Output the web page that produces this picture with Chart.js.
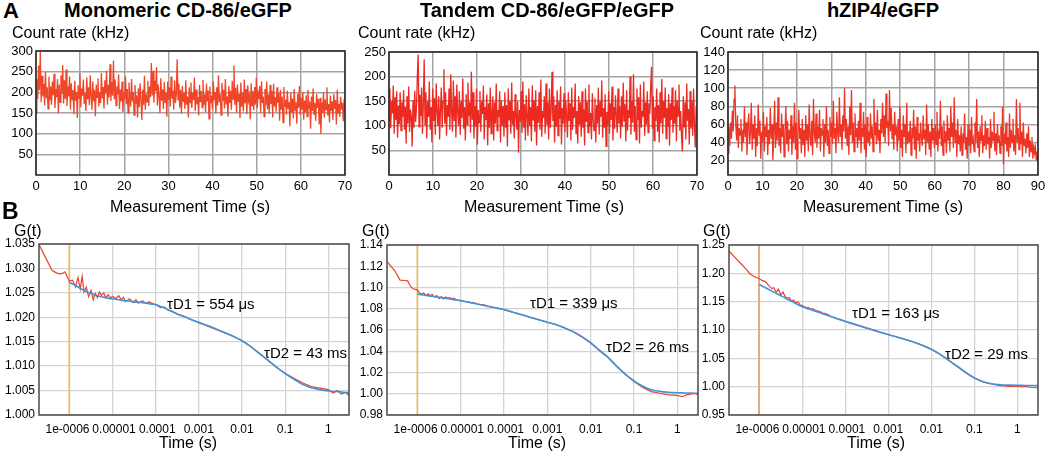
<!DOCTYPE html>
<html>
<head>
<meta charset="utf-8">
<script src="https://cdn.jsdelivr.net/npm/chart.js@4.4.1/dist/chart.umd.min.js"></script>
<style>
  body { margin: 0; background: #fff; }
  #fig { position: relative; width: 1046px; height: 461px; overflow: hidden; font-family: "Liberation Sans", Arial, sans-serif; color: #000; }
  .lbl { position: absolute; white-space: nowrap; line-height: 1; }
</style>
</head>
<body>
<div id="fig"></div>
<script>
// ---- A: count rate traces (kHz), evenly sampled over each run ----
const monoCounts = [
  150, 232, 184, 265, 205, 298, 176, 240, 190, 221, 168, 250, 186, 212, 160,
  238, 181, 214, 170, 226, 193, 245, 162, 208, 188, 232, 149, 219, 176, 241,
  196, 266, 173, 229, 184, 255, 167, 214, 190, 239, 158, 222, 181, 205, 147,
  228, 180, 201, 138, 217, 186, 247, 164, 209, 192, 231, 172, 198, 155, 236,
  183, 212, 169, 241, 190, 158, 226, 178, 206, 142, 219, 188, 234, 166, 200,
  174, 247, 185, 213, 161, 229, 197, 252, 170, 218, 188, 268, 179, 225, 192,
  277, 183, 231, 168, 214, 195, 243, 160, 207, 178, 226, 152, 199, 183, 238,
  171, 208, 150, 224, 186, 165, 232, 178, 200, 145, 218, 172, 193, 139, 210,
  164, 222, 182, 133, 206, 170, 240, 158, 196, 177, 228, 167, 214, 188, 271,
  192, 252, 175, 228, 203, 261, 168, 219, 189, 150, 234, 180, 207, 160, 225,
  176, 199, 141, 226, 182, 212, 166, 238, 185, 204, 158, 229, 174, 194, 280,
  182, 221, 163, 206, 148, 216, 177, 198, 160, 229, 170, 190, 139, 212, 175,
  224, 162, 199, 181, 236, 155, 207, 171, 188, 144, 218, 176, 203, 163, 230,
  170, 195, 152, 221, 178, 205, 136, 214, 174, 192, 158, 226, 181, 201, 149,
  212, 168, 241, 176, 196, 145, 223, 180, 206, 161, 232, 171, 190, 141, 215,
  174, 204, 158, 228, 183, 265, 170, 211, 151, 219, 177, 196, 138, 224, 165,
  199, 154, 231, 173, 208, 147, 217, 180, 192, 135, 222, 168, 203, 157, 213,
  170, 236, 162, 198, 184, 215, 150, 227, 174, 190, 141, 208, 168, 226, 159,
  195, 148, 218, 172, 204, 139, 221, 166, 188, 153, 212, 175, 199, 131, 206,
  158, 190, 127, 213, 165, 182, 146, 204, 160, 176, 118, 199, 151, 185, 137,
  208, 156, 176, 124, 196, 163, 215, 145, 187, 158, 201, 134, 180, 152, 193,
  141, 206, 160, 178, 112, 190, 155, 209, 147, 174, 131, 196, 162, 184, 122,
  187, 100, 175, 150, 200, 139, 183, 158, 212, 144, 172, 127, 192, 155, 178,
  133, 196, 160, 181, 122, 206, 150, 172, 141, 189, 158, 175, 130, 184, 152
];
const tandemCounts = [
  110, 176, 95, 150, 125, 182, 84, 158, 112, 170, 76, 141, 103, 168, 90,
  148, 118, 172, 92, 139, 64, 160, 104, 180, 88, 133, 120, 58, 152, 96,
  171, 108, 136, 200, 245, 98, 163, 120, 178, 84, 142, 235, 102, 168, 74,
  150, 118, 190, 92, 138, 66, 176, 110, 156, 82, 186, 128, 100, 160, 72,
  134, 178, 96, 150, 215, 104, 168, 80, 142, 118, 176, 92, 205, 126, 88,
  192, 110, 160, 76, 184, 128, 100, 170, 82, 150, 116, 196, 94, 138, 70,
  164, 102, 188, 120, 148, 86, 210, 112, 168, 74, 140, 98, 176, 62, 132,
  106, 170, 88, 150, 124, 182, 72, 138, 112, 164, 60, 146, 96, 178, 84,
  126, 160, 70, 148, 104, 186, 90, 132, 118, 170, 66, 152, 100, 140, 78,
  168, 96, 142, 58, 176, 112, 150, 84, 188, 102, 130, 74, 164, 120, 92,
  150, 45, 132, 108, 170, 86, 190, 96, 144, 70, 162, 118, 80, 176, 100,
  138, 68, 182, 112, 152, 88, 172, 60, 140, 106, 168, 92, 194, 78, 130,
  116, 160, 84, 186, 102, 148, 72, 176, 96, 132, 210, 110, 160, 66, 142,
  98, 172, 80, 150, 114, 180, 62, 136, 104, 166, 88, 152, 120, 76, 168,
  110, 146, 70, 178, 92, 138, 116, 186, 84, 130, 64, 160, 102, 148, 78,
  170, 96, 134, 60, 176, 108, 150, 86, 184, 98, 126, 72, 166, 112, 90,
  156, 66, 142, 104, 178, 82, 150, 118, 192, 76, 136, 96, 164, 58, 128,
  100, 170, 84, 146, 112, 180, 70, 138, 94, 162, 120, 86, 176, 104, 140,
  74, 160, 98, 188, 110, 144, 68, 172, 90, 132, 116, 200, 82, 150, 106,
  205, 88, 140, 72, 176, 112, 158, 64, 184, 96, 130, 118, 190, 80, 148,
  102, 170, 86, 146, 124, 180, 220, 94, 160, 70, 138, 110, 176, 88, 142,
  66, 168, 104, 195, 84, 150, 116, 178, 74, 136, 98, 164, 60, 146, 112,
  178, 86, 140, 104, 172, 68, 152, 120, 184, 90, 130, 76, 48, 160, 98,
  148, 72, 186, 110, 134, 62, 170, 94, 152, 80, 176, 104, 56, 140, 118
];
const zipCounts = [
  28, 58, 36, 62, 44, 75, 52, 88, 103, 60, 42, 70, 34, 56, 48,
  66, 30, 54, 40, 80, 46, 62, 26, 58, 72, 38, 50, 84, 32, 60,
  44, 70, 24, 56, 36, 82, 48, 64, 22, 52, 40, 74, 30, 58, 46,
  68, 26, 54, 38, 78, 44, 60, 20, 50, 86, 34, 62, 42, 90, 36,
  56, 28, 72, 46, 60, 24, 52, 80, 38, 64, 30, 54, 44, 70, 26,
  58, 40, 84, 32, 62, 22, 50, 76, 44, 56, 28, 66, 38, 54, 24,
  70, 42, 60, 30, 82, 46, 36, 64, 26, 88, 50, 40, 72, 34, 58,
  44, 76, 30, 56, 48, 66, 24, 60, 40, 80, 36, 54, 28, 68, 46,
  62, 38, 86, 44, 56, 28, 74, 50, 40, 90, 46, 60, 32, 70, 52,
  100, 44, 66, 36, 58, 26, 80, 48, 98, 40, 62, 30, 72, 46, 56,
  34, 64, 42, 84, 28, 56, 46, 74, 32, 60, 24, 68, 40, 52, 36,
  72, 44, 58, 30, 88, 48, 62, 38, 76, 42, 54, 28, 66, 50, 84,
  46, 70, 40, 94, 56, 64, 36, 98, 52, 78, 44, 60, 32, 74, 48,
  58, 30, 66, 42, 80, 34, 54, 24, 70, 46, 60, 28, 84, 38, 52,
  40, 64, 26, 56, 44, 76, 32, 58, 22, 68, 42, 50, 30, 62, 46,
  36, 70, 44, 54, 26, 82, 40, 60, 32, 52, 24, 66, 42, 56, 34,
  60, 38, 74, 30, 50, 44, 86, 36, 58, 26, 64, 40, 52, 28, 70,
  42, 56, 30, 80, 46, 62, 34, 90, 40, 54, 24, 66, 38, 48, 30,
  58, 26, 50, 40, 72, 32, 46, 22, 60, 36, 54, 28, 68, 38, 44,
  30, 62, 40, 88, 34, 52, 24, 58, 42, 70, 28, 48, 36, 64, 32,
  56, 38, 46, 22, 66, 34, 52, 42, 74, 30, 50, 26, 60, 40, 48,
  28, 58, 36, 80, 16, 50, 38, 62, 30, 46, 24, 72, 34, 54, 40,
  66, 30, 48, 26, 88, 40, 56, 32, 84, 38, 52, 24, 62, 36, 44,
  28, 50, 34, 58, 24, 42, 30, 46, 22, 38, 28, 34, 20, 30, 16
];
const monoDuration = 70;
const tandemDuration = 70;
const zipDuration = 90;

const timeTicks70 = [0, 10, 20, 30, 40, 50, 60, 70];
const timeTicks90 = [0, 10, 20, 30, 40, 50, 60, 70, 80, 90];
const monoCountTicks = [50, 100, 150, 200, 250, 300];
const tandemCountTicks = [50, 100, 150, 200, 250];
const zipCountTicks = [20, 40, 60, 80, 100, 120, 140];

// ---- B: autocorrelation G(t) and two-component fit ----
const lagTimes = [
  2e-7, 3e-7, 4e-7, 5e-7, 6e-7, 7e-7, 8e-7, 9e-7, 1e-6,
  1.2e-6, 1.4e-6, 1.6e-6, 1.8e-6, 2e-6, 2.2e-6, 2.5e-6, 2.8e-6, 3.2e-6, 3.6e-6, 4e-6, 4.5e-6, 5e-6, 5.6e-6, 6.3e-6, 7e-6, 8e-6, 9e-6, 1e-5,
  1.2e-5, 1.4e-5, 1.6e-5, 1.8e-5, 2e-5, 2.5e-5, 3e-5, 3.5e-5, 4e-5, 5e-5, 6e-5, 7e-5, 8e-5, 1e-4,
  1.3e-4, 1.6e-4, 2e-4, 2.5e-4, 3.2e-4, 4e-4, 5e-4, 6.3e-4, 8e-4, 1e-3,
  1.6e-3, 2.5e-3, 4e-3, 6.3e-3, 1e-2,
  0.016, 0.025, 0.04, 0.063, 0.1,
  0.16, 0.25, 0.4, 0.63, 1,
  1.3, 1.6, 2, 2.5, 3
];
const monoG = [
  1.0349, 1.0318, 1.0296, 1.0291, 1.0289, 1.0290, 1.0293, 1.0283, 1.0274,
  1.0276, 1.0262, 1.0281, 1.0258, 1.0284, 1.0252, 1.0262, 1.0242, 1.0255, 1.0236, 1.0249, 1.0240, 1.0252, 1.0245, 1.0250, 1.0240, 1.0246, 1.0239, 1.0243,
  1.0238, 1.0244, 1.0236, 1.0241, 1.0232, 1.0238, 1.0230, 1.0236, 1.0229, 1.0234, 1.0228, 1.0232, 1.0229, 1.0226,
  1.0220, 1.0221, 1.0214, 1.0212, 1.0206, 1.0204, 1.0201, 1.0196, 1.0192, 1.0190,
  1.0182, 1.0175, 1.0168, 1.0161, 1.0152,
  1.0140, 1.0127, 1.0112, 1.0097, 1.0085,
  1.0075, 1.0066, 1.0058, 1.0055, 1.0052,
  1.0045, 1.0050, 1.0043, 1.0046, 1.0040
];
const monoFit = [
  null, null, null, null, null, null, null, null, 1.0272,
  1.0268, 1.0265, 1.0262, 1.0259, 1.0257, 1.0255, 1.0253, 1.0251, 1.0249, 1.0247, 1.0245, 1.0244, 1.0243, 1.0242, 1.0241, 1.0240, 1.0239, 1.0238, 1.0238,
  1.0237, 1.0236, 1.0235, 1.0234, 1.0234, 1.0233, 1.0232, 1.0231, 1.0231, 1.0230, 1.0229, 1.0228, 1.0227, 1.0226,
  1.0222, 1.0219, 1.0215, 1.0211, 1.0207, 1.0203, 1.0200, 1.0196, 1.0193, 1.0189,
  1.0183, 1.0176, 1.0169, 1.0161, 1.0152,
  1.0140, 1.0126, 1.0112, 1.0098, 1.0085,
  1.0073, 1.0063, 1.0056, 1.0052, 1.0049,
  1.0048, 1.0048, 1.0047, 1.0046, 1.0046
];
const tandemG = [
  1.1244, 1.1160, 1.1070, 1.1066, 1.1062, 1.1010, 1.0988, 1.0982, 1.0978,
  1.0935, 1.0948, 1.0925, 1.0940, 1.0920, 1.0935, 1.0910, 1.0925, 1.0895, 1.0915, 1.0893, 1.0910, 1.0900, 1.0905, 1.0893, 1.0900, 1.0885, 1.0880, 1.0878,
  1.0872, 1.0868, 1.0866, 1.0855, 1.0858, 1.0845, 1.0840, 1.0836, 1.0826, 1.0820, 1.0812, 1.0808, 1.0801, 1.0792,
  1.0780, 1.0767, 1.0757, 1.0744, 1.0733, 1.0719, 1.0710, 1.0698, 1.0685, 1.0672,
  1.0652, 1.0620, 1.0582, 1.0535, 1.0478,
  1.0405, 1.0340, 1.0255, 1.0180, 1.0115,
  1.0060, 1.0020, 1.0005, 0.9990, 0.9985,
  0.9972, 0.9990, 0.9995, 1.0003, 0.9992
];
const tandemFit = [
  null, null, null, null, null, null, null, null, 1.0938,
  1.0933, 1.0929, 1.0925, 1.0922, 1.0919, 1.0917, 1.0913, 1.0910, 1.0907, 1.0904, 1.0901, 1.0898, 1.0895, 1.0892, 1.0888, 1.0886, 1.0882, 1.0879, 1.0876,
  1.0869, 1.0864, 1.0859, 1.0855, 1.0851, 1.0843, 1.0836, 1.0830, 1.0825, 1.0817, 1.0811, 1.0805, 1.0800, 1.0792,
  1.0778, 1.0768, 1.0756, 1.0745, 1.0732, 1.0720, 1.0709, 1.0697, 1.0684, 1.0673,
  1.0650, 1.0620, 1.0585, 1.0538, 1.0480,
  1.0410, 1.0345, 1.0260, 1.0185, 1.0121,
  1.0070, 1.0038, 1.0022, 1.0014, 1.0010,
  1.0008, 1.0007, 1.0006, 1.0005, 1.0005
];
const zipG = [
  1.2394, 1.2252, 1.2152, 1.2075, 1.1998, 1.1963, 1.1934, 1.1922, 1.1910,
  1.1870, 1.1855, 1.1800, 1.1760, 1.1730, 1.1745, 1.1665, 1.1720, 1.1620, 1.1670, 1.1590, 1.1560, 1.1575, 1.1510, 1.1530, 1.1480, 1.1495, 1.1440, 1.1430,
  1.1400, 1.1395, 1.1370, 1.1375, 1.1345, 1.1330, 1.1300, 1.1290, 1.1270, 1.1225, 1.1205, 1.1190, 1.1175, 1.1150,
  1.1122, 1.1100, 1.1078, 1.1054, 1.1030, 1.1006, 1.0984, 1.0960, 1.0938, 1.0917,
  1.0872, 1.0830, 1.0784, 1.0728, 1.0662,
  1.0566, 1.0465, 1.0356, 1.0245, 1.0150,
  1.0085, 1.0048, 1.0020, 1.0005, 1.0010,
  0.9998, 1.0003, 0.9990, 0.9985, 0.9972
];
const zipFit = [
  null, null, null, null, null, null, null, null, 1.1804,
  1.1773, 1.1746, 1.1723, 1.1703, 1.1685, 1.1669, 1.1647, 1.1627, 1.1605, 1.1584, 1.1566, 1.1546, 1.1528, 1.1509, 1.1488, 1.1470, 1.1447, 1.1427, 1.1409,
  1.1389, 1.1372, 1.1357, 1.1344, 1.1333, 1.1308, 1.1288, 1.1271, 1.1256, 1.1231, 1.1211, 1.1194, 1.1180, 1.1155,
  1.1128, 1.1107, 1.1084, 1.1061, 1.1036, 1.1013, 1.0990, 1.0966, 1.0942, 1.0919,
  1.0875, 1.0832, 1.0782, 1.0725, 1.0660,
  1.0570, 1.0470, 1.0360, 1.0250, 1.0155,
  1.0087, 1.0050, 1.0035, 1.0027, 1.0023,
  1.0022, 1.0021, 1.0020, 1.0020, 1.0020
];
const fitStart = 1e-6;
const lagTickValues = [1e-6, 1e-5, 1e-4, 1e-3, 1e-2, 1e-1, 1];
const lagTickLabels = ['1e-0006 ', ' 0.00001', ' 0.0001', '0.001', '0.01', '0.1', '1'];
const monoGTicks = [1.000, 1.005, 1.010, 1.015, 1.020, 1.025, 1.030, 1.035];
const tandemGTicks = [0.98, 1.00, 1.02, 1.04, 1.06, 1.08, 1.10, 1.12, 1.14];
const zipGTicks = [0.95, 1.00, 1.05, 1.10, 1.15, 1.20, 1.25];

Chart.defaults.font.family = '"Liberation Sans", Arial, sans-serif';
Chart.defaults.color = '#000';

const fig = document.getElementById('fig');

function addText(text, x, cy, size, opts = {}) {
  const d = document.createElement('div');
  d.className = 'lbl';
  d.textContent = text;
  d.style.fontSize = size + 'px';
  d.style.fontWeight = opts.bold ? 'bold' : 'normal';
  d.style.top = (cy - size / 2) + 'px';
  d.style.left = x + 'px';
  if (opts.center) d.style.transform = 'translateX(-50%)';
  fig.appendChild(d);
}

// box around the plot area, plus the vertical marker where the fit starts
const framePlugin = {
  id: 'frame',
  beforeDatasetsDraw(chart, args, opts) {
    if (opts.markAt == null) return;
    const { ctx, chartArea: a } = chart;
    const x = chart.scales.x.getPixelForValue(opts.markAt);
    ctx.save();
    ctx.strokeStyle = opts.markColor;
    ctx.lineWidth = 1.5;
    ctx.beginPath();
    ctx.moveTo(x, a.top);
    ctx.lineTo(x, a.bottom);
    ctx.stroke();
    ctx.restore();
  },
  afterDraw(chart, args, opts) {
    const { ctx, chartArea: a } = chart;
    ctx.save();
    ctx.strokeStyle = opts.color;
    ctx.lineWidth = opts.width;
    ctx.strokeRect(a.left, a.top, a.right - a.left, a.bottom - a.top);
    ctx.restore();
  }
};

function makePanel(plot, yw, xh, padTop, padRight, datasets, xScale, yScale, frame) {
  const c = document.createElement('canvas');
  const w = yw + (plot.r - plot.l) + padRight;
  const h = padTop + (plot.b - plot.t) + xh;
  c.width = w;
  c.height = h;
  c.style.cssText = `position:absolute;left:${plot.l - yw}px;top:${plot.t - padTop}px;width:${w}px;height:${h}px`;
  fig.appendChild(c);

  xScale.afterFit = (s) => { s.height = xh; };
  yScale.afterFit = (s) => { s.width = yw; };

  return new Chart(c, {
    type: 'line',
    data: { datasets },
    options: {
      responsive: false,
      animation: false,
      devicePixelRatio: 1,
      parsing: false,
      normalized: true,
      layout: { padding: { top: padTop, right: padRight, left: 0, bottom: 0 } },
      elements: { point: { radius: 0 }, line: { tension: 0 } },
      plugins: { legend: { display: false }, tooltip: { enabled: false }, frame },
      scales: { x: xScale, y: yScale }
    },
    plugins: [framePlugin]
  });
}

function fixedTicks(values) {
  return (s) => { s.ticks = values.map((v) => ({ value: v })); };
}

function countPanel(plot, counts, duration, color, timeTicks, yMin, yMax, yTicks) {
  const pts = counts.map((v, i) => ({ x: i * duration / (counts.length - 1), y: v }));
  makePanel(plot, 36, 30, 12, 14,
    [{ data: pts, borderColor: color, borderWidth: 1.3 }],
    {
      type: 'linear', min: 0, max: duration,
      afterBuildTicks: fixedTicks(timeTicks),
      ticks: { font: { size: 13 }, padding: 4, maxRotation: 0, autoSkip: false },
      grid: { color: '#a4a4a4', lineWidth: 1.5, drawTicks: false },
      border: { display: false }
    },
    {
      type: 'linear', min: yMin, max: yMax,
      afterBuildTicks: fixedTicks(yTicks),
      ticks: { font: { size: 13 }, padding: 3 },
      grid: { color: '#a4a4a4', lineWidth: 1.5, drawTicks: false },
      border: { display: false }
    },
    { color: '#2b2b2b', width: 1.6 });
}

function corrPanel(plot, g, fit, yMin, yMax, yTicks, digits, markColor) {
  const redPts = lagTimes.map((t, i) => ({ x: t, y: g[i] }));
  const fitPts = lagTimes.map((t, i) => ({ x: t, y: fit[i] })).filter((p) => p.y !== null);
  makePanel(plot, 40, 34, 12, 14,
    [
      { data: fitPts, borderColor: '#4193dc', borderWidth: 1.6, cubicInterpolationMode: 'monotone' },
      { data: redPts, borderColor: '#e8432a', borderWidth: 1.2 }
    ],
    {
      type: 'logarithmic', min: 2e-7, max: 3,
      afterBuildTicks: fixedTicks(lagTickValues),
      ticks: { font: { size: 12 }, padding: 7, maxRotation: 0, autoSkip: false,
               callback: (v, i) => lagTickLabels[i] },
      grid: { color: '#d4d4d4', lineWidth: 1.3, drawTicks: false },
      border: { display: false }
    },
    {
      type: 'linear', min: yMin, max: yMax,
      afterBuildTicks: fixedTicks(yTicks),
      ticks: { font: { size: 12 }, padding: 4, callback: (v) => v.toFixed(digits) },
      grid: { color: '#d4d4d4', lineWidth: 1.3, drawTicks: false },
      border: { display: false }
    },
    { color: '#4a4a4a', width: 1.5, markAt: fitStart, markColor: markColor });
}

countPanel({ l: 36, r: 345, t: 51, b: 175 }, monoCounts, monoDuration, '#ef4529', timeTicks70, 0, 300, monoCountTicks);
countPanel({ l: 389, r: 697, t: 52, b: 175 }, tandemCounts, tandemDuration, '#ec2a22', timeTicks70, 0, 250, tandemCountTicks);
countPanel({ l: 728, r: 1038, t: 52, b: 175 }, zipCounts, zipDuration, '#ee3425', timeTicks90, 4, 140, zipCountTicks);

corrPanel({ l: 39, r: 349, t: 244, b: 415 }, monoG, monoFit, 1.000, 1.035, monoGTicks, 3, '#f6b845');
corrPanel({ l: 387, r: 698, t: 245, b: 415 }, tandemG, tandemFit, 0.98, 1.14, tandemGTicks, 2, '#f6b845');
corrPanel({ l: 729, r: 1038, t: 245, b: 415 }, zipG, zipFit, 0.95, 1.25, zipGTicks, 2, '#f0985a');

// headings and axis titles
addText('A', 3, 11, 22, { bold: true });
addText('B', 2, 211, 23, { bold: true });
addText('Monomeric CD-86/eGFP', 178, 10, 20, { bold: true, center: true });
addText('Tandem CD-86/eGFP/eGFP', 547, 10, 20, { bold: true, center: true });
addText('hZIP4/eGFP', 883, 10, 20, { bold: true, center: true });

[12, 358, 700].forEach((x) => addText('Count rate (kHz)', x, 33, 16));
[190, 544, 883].forEach((x) => addText('Measurement Time (s)', x, 207, 16, { center: true }));
[14, 362, 703].forEach((x) => addText('G(t)', x, 231, 16));
[188, 537, 876].forEach((x) => addText('Time (s)', x, 443, 16, { center: true }));

addText('τD1 = 554 μs', 167, 303, 15);
addText('τD2 = 43 ms', 264, 352, 15);
addText('τD1 = 339 μs', 530, 302, 15);
addText('τD2 = 26 ms', 606, 346, 15);
addText('τD1 = 163 μs', 852, 312, 15);
addText('τD2 = 29 ms', 945, 353, 15);
</script>
</body>
</html>
